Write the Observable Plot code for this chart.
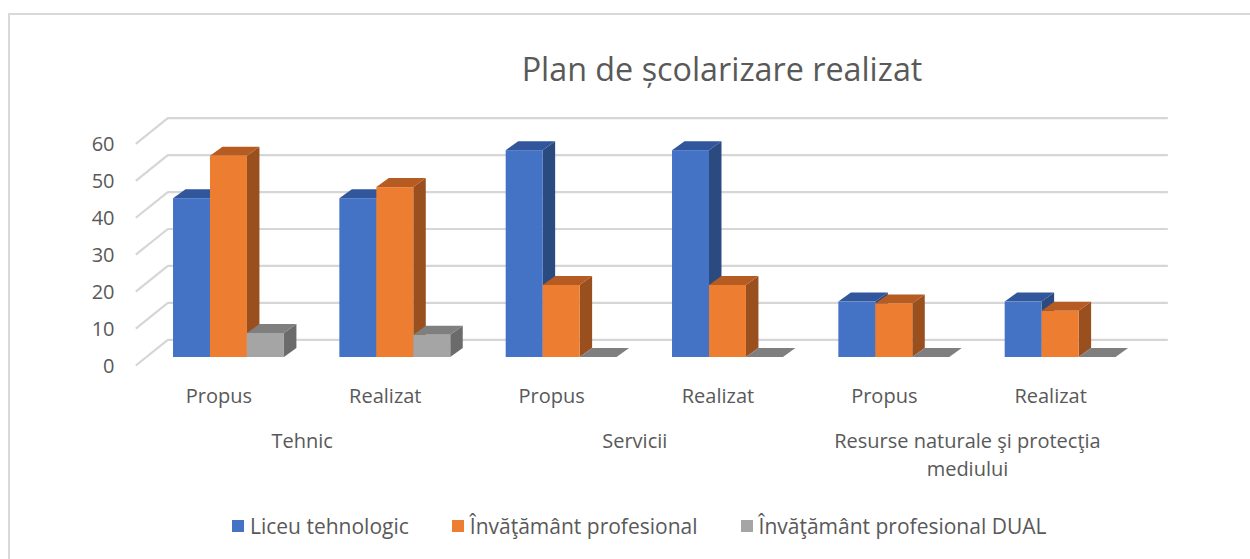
<!DOCTYPE html>
<html>
<head>
<meta charset="utf-8">
<script src="https://cdn.jsdelivr.net/npm/d3@7"></script>
<script src="https://cdn.jsdelivr.net/npm/@observablehq/plot@0.6"></script>
<style>
  html, body { margin: 0; padding: 0; background: #fff; }
  #wrap { position: relative; width: 1250px; height: 559px; overflow: hidden; font-family: "Open Sans", Lato, sans-serif; color: #595959; }
  #frame { position: absolute; left: 8px; top: 13px; width: 1300px; height: 600px; border-left: 2px solid #d9d9d9; border-top: 2px solid #d9d9d9; }
  #title { position: absolute; left: 722px; top: 52px; transform: translateX(-50%); font-size: 32.3px; line-height: 1; white-space: nowrap; color: #595959; }
  #chart { position: absolute; left: 0; top: 0; }
  #legend { position: absolute; left: 232px; top: 515px; display: flex; align-items: center; font-size: 21px; line-height: 22px; white-space: nowrap; }
  .item { display: flex; align-items: center; margin-right: 43px; }
  .sw { width: 12px; height: 12px; margin-right: 6px; }
</style>
</head>
<body>
<div id="wrap">
  <div id="frame"></div>
  <div id="title"></div>
  <div id="chart"></div>
  <div id="legend"></div>
</div>
<script>
// ---- Data ----
const chartTitle = "Plan de școlarizare realizat";
const groups = ["Tehnic", "Servicii", "Resurse naturale şi protecţia mediului"];
const stages = ["Propus", "Realizat", "Propus", "Realizat", "Propus", "Realizat"];
const seriesNames = ["Liceu tehnologic", "Învăţământ profesional", "Învăţământ profesional DUAL"];
const liceu = [43, 43, 56, 56, 15, 15];
const profesional = [54.5, 46, 19.5, 19.5, 14.5, 12.5];
const dual = [6.5, 6, 0, 0, 0, 0];
const yTicks = [0, 10, 20, 30, 40, 50, 60];

// ---- Styling ----
const frontColors = ["#4472c4", "#ed7d31", "#a5a5a5"];
const topColors = ["#31569b", "#b65b21", "#7f7f7f"];
const sideColors = ["#2b4a80", "#9a4f1e", "#6b6b6b"];
const FONT = "'Open Sans', Lato, sans-serif";

// ---- Geometry (3D look) ----
const W = 1250, H = 500;
const mL = 145.3, mR = W - 1143.3, mT = 135.4, mB = H - 357;
const pxPerSlot = (W - mL - mR) / 6;
const pxPerUnit = (H - mT - mB) / 60;
const toX = px => px / pxPerSlot, toY = px => px / pxPerUnit;
const PAD = 1 / 6, BW = 2 / 9;
const DX = toX(12.5), DY = toY(9);          // bar depth
const backDX = toX(22), backDY = toY(17.7);  // back wall offset
const frontDX = toX(-10), frontDY = toY(-8); // front plane offset

const seriesValues = [liceu, profesional, dual];
const bars = [];
seriesValues.forEach((arr, s) => arr.forEach((v, i) => {
  const x1 = i + PAD + s * BW;
  bars.push({id: `${i}-${s}`, s, v, x1, x2: x1 + BW});
}));
const sidePts = bars.flatMap(b => [
  {id: b.id, s: b.s, x: b.x2, y1: 0, y2: b.v},
  {id: b.id, s: b.s, x: b.x2 + DX, y1: DY, y2: b.v + DY}
]);
const topPts = bars.flatMap(b => [
  {id: b.id, s: b.s, x: b.x1, y1: b.v, y2: b.v},
  {id: b.id, s: b.s, x: b.x1 + DX, y1: b.v, y2: b.v + DY},
  {id: b.id, s: b.s, x: b.x2, y1: b.v, y2: b.v + DY},
  {id: b.id, s: b.s, x: b.x2 + DX, y1: b.v + DY, y2: b.v + DY}
]);

const chart = Plot.plot({
  width: W, height: H,
  marginLeft: mL, marginRight: mR, marginTop: mT, marginBottom: mB,
  x: {type: "linear", domain: [0, 6], axis: null},
  y: {domain: [0, 60]},
  style: {fontFamily: FONT, color: "#595959", background: "transparent", overflow: "visible"},
  marks: [
    // back wall gridlines
    Plot.ruleY(yTicks, {y: d => d + backDY, x1: backDX, x2: 6.015 + backDX, stroke: "#d6d6d6", strokeWidth: 2.2}),
    // side wall diagonals
    Plot.link(yTicks, {x1: frontDX, y1: d => d + frontDY, x2: backDX, y2: d => d + backDY, stroke: "#d6d6d6", strokeWidth: 2.2}),
    // bar side faces
    Plot.areaY(sidePts, {x: "x", y1: "y1", y2: "y2", z: "id", fill: d => sideColors[d.s]}),
    // bar top faces
    Plot.areaY(topPts, {x: "x", y1: "y1", y2: "y2", z: "id", fill: d => topColors[d.s]}),
    // bar front faces
    Plot.rect(bars, {x1: "x1", x2: "x2", y1: 0, y2: "v", fill: d => frontColors[d.s]}),
    // y axis labels (front plane)
    Plot.axisY({ticks: yTicks, tickSize: 0, tickPadding: 31.3, dy: 9, fontSize: 20, fill: "#595959"}),
    // stage labels
    Plot.text(stages, {x: (d, i) => i + 0.5 + frontDX, frameAnchor: "bottom", text: d => d, dy: 45, fontSize: 20, fill: "#595959"}),
    // group labels
    Plot.text(groups, {x: (d, i) => 2 * i + 1 + frontDX, frameAnchor: "bottom", text: d => d, dy: 71, lineAnchor: "top", lineWidth: 16, lineHeight: 1.4, fontSize: 20, fill: "#595959"})
  ]
});
document.getElementById("chart").appendChild(chart);
document.getElementById("title").textContent = chartTitle;

const legend = document.getElementById("legend");
seriesNames.forEach((name, s) => {
  const item = document.createElement("div");
  item.className = "item";
  const sw = document.createElement("div");
  sw.className = "sw";
  sw.style.background = frontColors[s];
  const t = document.createElement("span");
  t.textContent = name;
  item.appendChild(sw); item.appendChild(t);
  legend.appendChild(item);
});
</script>
</body>
</html>
